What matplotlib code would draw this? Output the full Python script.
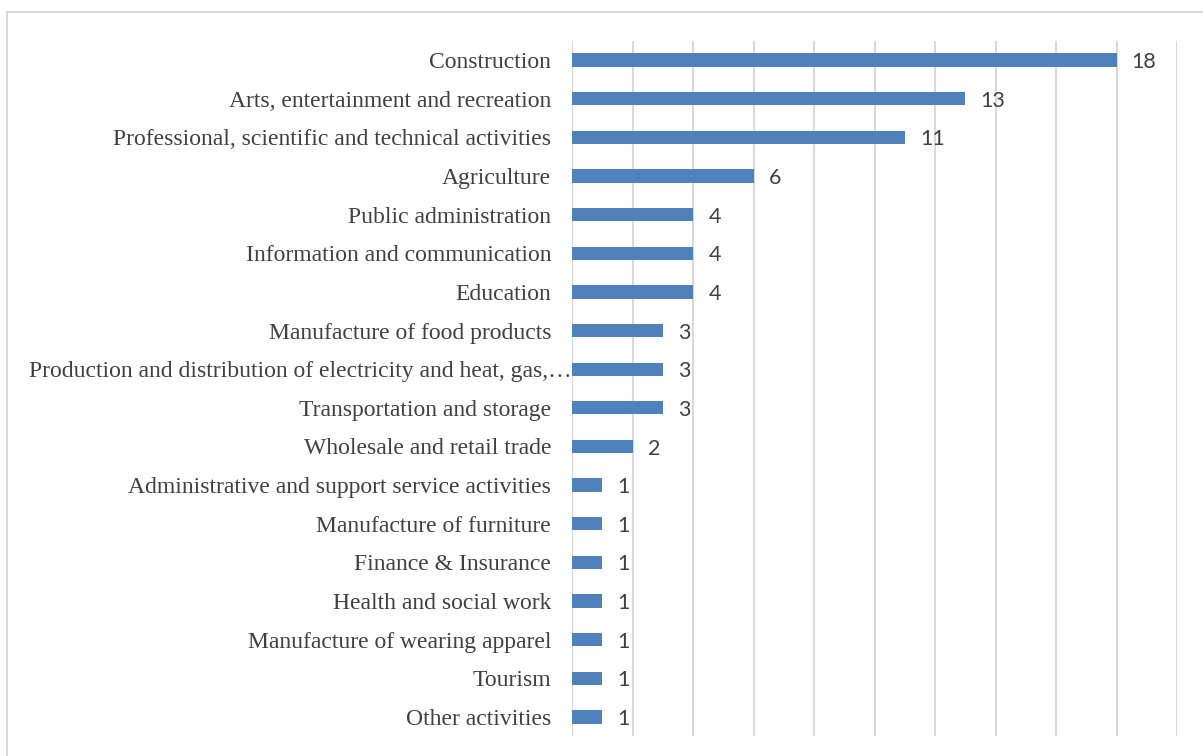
import matplotlib
matplotlib.use("Agg")
import matplotlib.pyplot as plt
from matplotlib.lines import Line2D
from matplotlib.transforms import ScaledTranslation

categories = [
    "Construction",
    "Arts, entertainment and recreation",
    "Professional, scientific and technical activities",
    "Agriculture",
    "Public administration",
    "Information and communication",
    "Education",
    "Manufacture of food products",
    "Production and distribution of electricity and heat, gas,\u2026",
    "Transportation and storage",
    "Wholesale and retail trade",
    "Administrative and support service activities",
    "Manufacture of furniture",
    "Finance & Insurance",
    "Health and social work",
    "Manufacture of wearing apparel",
    "Tourism",
    "Other activities",
]
counts = [18, 13, 11, 6, 4, 4, 4, 3, 3, 3, 2, 1, 1, 1, 1, 1, 1, 1]

W, H, DPI = 1203, 756, 100
fig = plt.figure(figsize=(W / DPI, H / DPI), dpi=DPI)
ax = fig.add_axes([572 / W, (H - 736.3) / H, 605 / W, 695.6 / H])

bar_color = "#4F81BD"
text_color = "#404040"
grid_color = "#D9D9D9"

ypos = list(range(len(categories)))
ax.barh(ypos, counts, height=0.345, color=bar_color, zorder=3)

ax.set_xlim(0, 20)
ax.set_ylim(len(categories) - 0.5, -0.5)
ax.set_xticks(range(0, 21, 2))
ax.set_xticklabels([])
ax.set_yticks(ypos)
ax.set_yticklabels(categories, fontfamily="Liberation Serif", fontsize=17,
                   color=text_color)
ax.tick_params(axis="both", length=0, pad=15)
ax.grid(axis="x", color=grid_color, linewidth=1.5, zorder=0)
ax.grid(axis="y", visible=False)
for s in ax.spines.values():
    s.set_visible(False)

# the truncated long label runs right up to the axis
for lbl in ax.get_yticklabels():
    if lbl.get_text().endswith("\u2026"):
        lbl.set_transform(lbl.get_transform()
                          + ScaledTranslation(20 / DPI, 0, fig.dpi_scale_trans))

for y, v in zip(ypos, counts):
    ax.annotate(str(v), xy=(v, y), xytext=(11, -1.5), textcoords="offset points",
                va="center", ha="left", fontfamily="Lato", fontsize=15.5,
                color=text_color)

# light frame around the chart area
fig.add_artist(Line2D([7 / W, 1], [1 - 12 / H, 1 - 12 / H],
                      transform=fig.transFigure, color=grid_color, linewidth=1.5))
fig.add_artist(Line2D([7 / W, 7 / W], [0, 1 - 12 / H],
                      transform=fig.transFigure, color=grid_color, linewidth=1.5))

fig.savefig("out.png", dpi=DPI, facecolor="white")
